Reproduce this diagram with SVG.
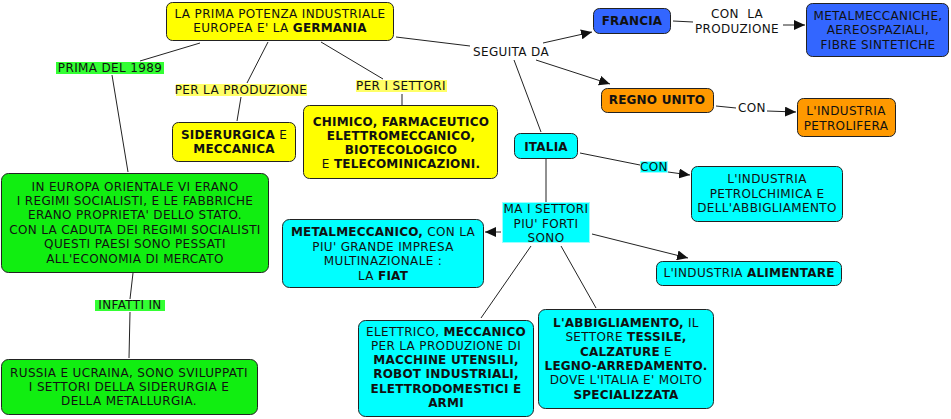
<svg xmlns="http://www.w3.org/2000/svg" width="951" height="419" viewBox="0 0 951 419">
<defs>
<marker id="ah" markerUnits="userSpaceOnUse" markerWidth="12" markerHeight="10" refX="11" refY="5" orient="auto">
<path d="M0,0 L11,5 L0,10 z" fill="#111"/>
</marker>
<style>
text{font-family:"DejaVu Sans","Verdana",sans-serif;font-size:12px;letter-spacing:0.35px;fill:#111;text-anchor:middle}
.b{font-weight:bold;letter-spacing:0.2px}
.n{stroke:#222;stroke-width:1}
.y{fill:#ffff00}
.g{fill:#11ee11}
.c{fill:#00ffff}
.bl{fill:#3366ff}
.o{fill:#ff9900}
.lg{fill:#33ff33}
.ly{fill:#ffff66}
.lc{fill:#00ffff;stroke:#99ffff;stroke-width:1}
#conn path{fill:none;stroke:#222;stroke-width:1}
</style>
</defs>
<rect width="951" height="419" fill="#fff"/>
<g id="conn">
<path d="M200,43 L140,61"/>
<path d="M112,75 L128,172"/>
<path d="M268,42 L247,83"/>
<path d="M241,97 L237,121"/>
<path d="M321,42 L383,79"/>
<path d="M402,94 L402,105"/>
<path d="M396,37 L470,46"/>
<path d="M543,43 L592,32" marker-end="url(#ah)"/>
<path d="M536,60 L610,84" marker-end="url(#ah)"/>
<path d="M514,60 L541,132"/>
<path d="M673,21 L693,22"/>
<path d="M783,25 L805,25" marker-end="url(#ah)"/>
<path d="M716,106 L736,108"/>
<path d="M767,111 L796,112" marker-end="url(#ah)"/>
<path d="M580,153 L640,165"/>
<path d="M668,172 L690,175" marker-end="url(#ah)"/>
<path d="M546,159 L546,202"/>
<path d="M501,232 L485,232" marker-end="url(#ah)"/>
<path d="M592,234 L688,258" marker-end="url(#ah)"/>
<path d="M531,246 L481,318"/>
<path d="M561,246 L596,308"/>
<path d="M133,273 L130,299"/>
<path d="M130,312 L129,358"/>
</g>
<g id="germania">
<rect class="n y" x="166.5" y="2.5" width="227" height="38" rx="6"/>
<text x="280" y="18">LA PRIMA POTENZA INDUSTRIALE</text>
<text x="280" y="32">EUROPEA E' LA <tspan class="b">GERMANIA</tspan></text>
</g>
<g id="prima1989">
<rect class="lg" x="56" y="62" width="108" height="12"/>
<text x="110" y="72">PRIMA DEL 1989</text>
</g>
<g id="perlaproduzione">
<rect class="ly" x="176" y="84" width="131" height="12"/>
<text x="241" y="94">PER LA PRODUZIONE</text>
</g>
<g id="perisettori">
<rect class="ly" x="356" y="80" width="91" height="12"/>
<text x="401" y="90">PER I SETTORI</text>
</g>
<g id="siderurgica">
<rect class="n y" x="172.5" y="122.5" width="123" height="39" rx="6"/>
<text x="234" y="139"><tspan class="b">SIDERURGICA</tspan> E</text>
<text x="234" y="153" class="b">MECCANICA</text>
</g>
<g id="chimico">
<rect class="n y" x="303.5" y="105.5" width="194" height="73" rx="6"/>
<text x="401" y="126" class="b">CHIMICO, FARMACEUTICO</text>
<text x="401" y="140" class="b">ELETTROMECCANICO,</text>
<text x="401" y="154" class="b">BIOTECOLOGICO</text>
<text x="401" y="168">E <tspan class="b">TELECOMINICAZIONI.</tspan></text>
</g>
<g id="seguitada">
<text x="511" y="56">SEGUITA DA</text>
</g>
<g id="francia">
<rect class="n bl" x="593.5" y="8.5" width="77" height="25" rx="6"/>
<text x="632" y="25" class="b">FRANCIA</text>
</g>
<g id="conlaproduzione">
<text x="737" y="18" xml:space="preserve">CON  LA</text>
<text x="737" y="33">PRODUZIONE</text>
</g>
<g id="metalmeccaniche">
<rect class="n bl" x="806.5" y="3.5" width="142" height="53" rx="6"/>
<text x="878" y="20">METALMECCANICHE,</text>
<text x="878" y="34">AEREOSPAZIALI,</text>
<text x="878" y="49">FIBRE SINTETICHE</text>
</g>
<g id="regnounito">
<rect class="n o" x="601.5" y="88.5" width="112" height="24" rx="6"/>
<text x="657" y="104" class="b">REGNO UNITO</text>
</g>
<g id="con1">
<text x="752" y="112">CON</text>
</g>
<g id="petrolifera">
<rect class="n o" x="797.5" y="98.5" width="98" height="38" rx="6"/>
<text x="846" y="115">L'INDUSTRIA</text>
<text x="846" y="130">PETROLIFERA</text>
</g>
<g id="italia">
<rect class="n c" x="514.5" y="133.5" width="63" height="25" rx="6"/>
<text x="546" y="151" class="b">ITALIA</text>
</g>
<g id="con2">
<rect class="lc" x="640.5" y="161.5" width="27" height="11"/>
<text x="654" y="171">CON</text>
</g>
<g id="petrolchimica">
<rect class="n c" x="691.5" y="166.5" width="151" height="55" rx="6"/>
<text x="767" y="183">L'INDUSTRIA</text>
<text x="767" y="198">PETROLCHIMICA E</text>
<text x="767" y="212">DELL'ABBIGLIAMENTO</text>
</g>
<g id="maisettori">
<rect class="lc" x="502.5" y="202.5" width="87" height="40"/>
<text x="546" y="213">MA I SETTORI</text>
<text x="546" y="228">PIU' FORTI</text>
<text x="546" y="242">SONO</text>
</g>
<g id="metalmeccanico">
<rect class="n c" x="282.5" y="219.5" width="201" height="68" rx="7"/>
<text x="383" y="236"><tspan class="b">METALMECCANICO,</tspan> CON LA</text>
<text x="383" y="251">PIU' GRANDE IMPRESA</text>
<text x="383" y="265">MULTINAZIONALE :</text>
<text x="383" y="280">LA <tspan class="b">FIAT</tspan></text>
</g>
<g id="alimentare">
<rect class="n c" x="656.5" y="261.5" width="185" height="24" rx="6"/>
<text x="749" y="277">L'INDUSTRIA <tspan class="b">ALIMENTARE</tspan></text>
</g>
<g id="elettrico">
<rect class="n c" x="358.5" y="320.5" width="175" height="96" rx="7"/>
<text x="446" y="336">ELETTRICO, <tspan class="b">MECCANICO</tspan></text>
<text x="446" y="350">PER LA PRODUZIONE DI</text>
<text x="446" y="364" class="b">MACCHINE UTENSILI,</text>
<text x="446" y="378" class="b">ROBOT INDUSTRIALI,</text>
<text x="446" y="393" class="b">ELETTRODOMESTICI E</text>
<text x="446" y="407" class="b">ARMI</text>
</g>
<g id="abbigliamento">
<rect class="n c" x="538.5" y="309.5" width="175" height="99" rx="7"/>
<text x="626" y="327"><tspan class="b">L'ABBIGLIAMENTO,</tspan> IL</text>
<text x="626" y="341">SETTORE <tspan class="b">TESSILE,</tspan></text>
<text x="626" y="356"><tspan class="b">CALZATURE</tspan> E</text>
<text x="626" y="370" class="b">LEGNO-ARREDAMENTO.</text>
<text x="626" y="384">DOVE L'ITALIA E' MOLTO</text>
<text x="626" y="399" class="b">SPECIALIZZATA</text>
</g>
<g id="europaorientale">
<rect class="n g" x="1.5" y="173.5" width="267" height="99" rx="7"/>
<text x="135" y="191">IN EUROPA ORIENTALE VI ERANO</text>
<text x="135" y="205">I REGIMI SOCIALISTI, E LE FABBRICHE</text>
<text x="135" y="219">ERANO PROPRIETA' DELLO STATO.</text>
<text x="135" y="234">CON LA CADUTA DEI REGIMI SOCIALISTI</text>
<text x="135" y="248">QUESTI PAESI SONO PESSATI</text>
<text x="135" y="263">ALL'ECONOMIA DI MERCATO</text>
</g>
<g id="infattiin">
<rect class="lg" x="95" y="300" width="70" height="11"/>
<text x="130" y="309">INFATTI IN</text>
</g>
<g id="russia">
<rect class="n g" x="1.5" y="359.5" width="256" height="55" rx="7"/>
<text x="129" y="377">RUSSIA E UCRAINA, SONO SVILUPPATI</text>
<text x="129" y="391">I SETTORI DELLA SIDERURGIA E</text>
<text x="129" y="405">DELLA METALLURGIA.</text>
</g>
</svg>
